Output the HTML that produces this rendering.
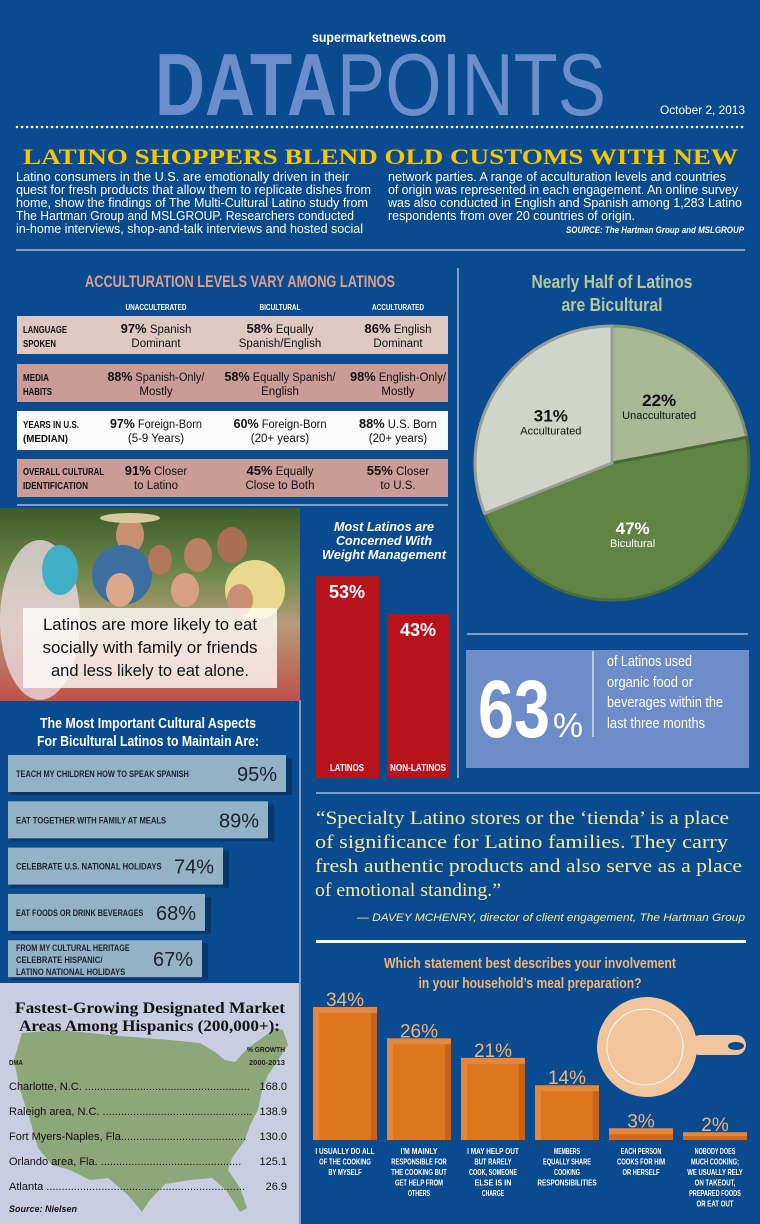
<!DOCTYPE html>
<html><head><meta charset="utf-8">
<style>
html,body{margin:0;padding:0;background:#0a4a8f;}
svg{display:block;}
text{font-family:"Liberation Sans",sans-serif;}
.sf, .sf text, text.sf{font-family:"Liberation Serif",serif;}
</style></head>
<body>
<svg id="page" width="760" height="1224" viewBox="0 0 760 1224" xmlns="http://www.w3.org/2000/svg">
<defs>
<linearGradient id="photoBg" x1="0" y1="0" x2="0" y2="1">
<stop offset="0" stop-color="#3d5a2a"/><stop offset="0.35" stop-color="#6f8a4a"/><stop offset="0.6" stop-color="#b79a78"/><stop offset="1" stop-color="#c0504a"/>
</linearGradient>
</defs>
<rect x="0" y="0" width="760" height="1224" fill="#0a4a8f"/>

<!-- Header -->
<text x="379" y="42" font-size="14" font-weight="bold" fill="#fff" text-anchor="middle" textLength="134" lengthAdjust="spacingAndGlyphs">supermarketnews.com</text>
<g>
<text x="155" y="115" font-size="88" font-weight="bold" fill="#6a8dcb" textLength="182" lengthAdjust="spacingAndGlyphs">DATA</text>
<text x="337" y="115" font-size="88" fill="#6a8dcb" textLength="269" lengthAdjust="spacingAndGlyphs">POINTS</text>
</g>
<text x="745" y="114" font-size="12" fill="#fff" text-anchor="end" textLength="85" lengthAdjust="spacingAndGlyphs">October 2, 2013</text>
<line x1="17" y1="127" x2="745" y2="127" stroke="#fff" stroke-width="2.5" stroke-dasharray="0.1 4.9" stroke-linecap="round"/>
<text class="sf" x="23" y="164" font-size="22" font-weight="bold" fill="#f7c600" textLength="715" lengthAdjust="spacingAndGlyphs">LATINO SHOPPERS BLEND OLD CUSTOMS WITH NEW</text>
<g font-size="12.5" fill="#fff">
<text x="16" y="181" textLength="333" lengthAdjust="spacingAndGlyphs">Latino consumers in the U.S. are emotionally driven in their</text>
<text x="16" y="194" textLength="355" lengthAdjust="spacingAndGlyphs">quest for fresh products that allow them to replicate dishes from</text>
<text x="16" y="207" textLength="352" lengthAdjust="spacingAndGlyphs">home, show the findings of The Multi-Cultural Latino study from</text>
<text x="16" y="220" textLength="338" lengthAdjust="spacingAndGlyphs">The Hartman Group and MSLGROUP. Researchers conducted</text>
<text x="16" y="233" textLength="347" lengthAdjust="spacingAndGlyphs">in-home interviews, shop-and-talk interviews and hosted social</text>
<text x="388" y="181" textLength="338" lengthAdjust="spacingAndGlyphs">network parties. A range of acculturation levels and countries</text>
<text x="388" y="194" textLength="350" lengthAdjust="spacingAndGlyphs">of origin was represented in each engagement. An online survey</text>
<text x="388" y="207" textLength="354" lengthAdjust="spacingAndGlyphs">was also conducted in English and Spanish among 1,283 Latino</text>
<text x="388" y="220" textLength="247" lengthAdjust="spacingAndGlyphs">respondents from over 20 countries of origin.</text>
</g>
<text x="744" y="233" font-size="9" font-weight="bold" font-style="italic" fill="#fff" text-anchor="end" textLength="178" lengthAdjust="spacingAndGlyphs">SOURCE: The Hartman Group and MSLGROUP</text>

<line x1="16" y1="250" x2="745" y2="250" stroke="#aab8d8" stroke-width="1.5"/>
<line x1="458" y1="268" x2="458" y2="778" stroke="#aab8d8" stroke-width="1.5"/>
<line x1="300" y1="700" x2="300" y2="1224" stroke="#aab8d8" stroke-width="1.5"/>

<!-- Acculturation table -->
<text x="240" y="287" font-size="17" font-weight="bold" fill="#dba08e" text-anchor="middle" textLength="310" lengthAdjust="spacingAndGlyphs">ACCULTURATION LEVELS VARY AMONG LATINOS</text>
<g font-size="8" font-weight="bold" fill="#fff" text-anchor="middle">
<text x="156" y="310" textLength="61" lengthAdjust="spacingAndGlyphs">UNACCULTERATED</text>
<text x="280" y="310" textLength="41" lengthAdjust="spacingAndGlyphs">BICULTURAL</text>
<text x="398" y="310" textLength="52" lengthAdjust="spacingAndGlyphs">ACCULTURATED</text>
</g>
<g>
<rect x="17" y="316" width="431" height="38" fill="#e0c8c2"/>
<rect x="17" y="364" width="431" height="38" fill="#c99c95"/>
<rect x="17" y="411" width="431" height="39" fill="#fafafa"/>
<rect x="17" y="459" width="431" height="38" fill="#c99c95"/>
<g font-size="10.5" font-weight="bold" fill="#111">
<text x="23" y="333" textLength="44" lengthAdjust="spacingAndGlyphs">LANGUAGE</text>
<text x="23" y="347" textLength="33" lengthAdjust="spacingAndGlyphs">SPOKEN</text>
<text x="23" y="381" textLength="26" lengthAdjust="spacingAndGlyphs">MEDIA</text>
<text x="23" y="395" textLength="29" lengthAdjust="spacingAndGlyphs">HABITS</text>
<text x="23" y="428" textLength="56" lengthAdjust="spacingAndGlyphs">YEARS IN U.S.</text>
<text x="23" y="442" textLength="45" lengthAdjust="spacingAndGlyphs">(MEDIAN)</text>
<text x="23" y="475" textLength="81" lengthAdjust="spacingAndGlyphs">OVERALL CULTURAL</text>
<text x="23" y="489" textLength="65" lengthAdjust="spacingAndGlyphs">IDENTIFICATION</text>
</g>
<g font-size="11.5" fill="#111" text-anchor="middle">
<text x="156" y="333"><tspan font-weight="bold" font-size="13">97%</tspan> Spanish</text>
<text x="156" y="347">Dominant</text>
<text x="280" y="333"><tspan font-weight="bold" font-size="13">58%</tspan> Equally</text>
<text x="280" y="347">Spanish/English</text>
<text x="398" y="333"><tspan font-weight="bold" font-size="13">86%</tspan> English</text>
<text x="398" y="347">Dominant</text>
<text x="156" y="381" textLength="97" lengthAdjust="spacingAndGlyphs"><tspan font-weight="bold" font-size="13">88%</tspan> Spanish-Only/</text>
<text x="156" y="395">Mostly</text>
<text x="280" y="381" textLength="111" lengthAdjust="spacingAndGlyphs"><tspan font-weight="bold" font-size="13">58%</tspan> Equally Spanish/</text>
<text x="280" y="395">English</text>
<text x="398" y="381" textLength="96" lengthAdjust="spacingAndGlyphs"><tspan font-weight="bold" font-size="13">98%</tspan> English-Only/</text>
<text x="398" y="395">Mostly</text>
<text x="156" y="428" textLength="92" lengthAdjust="spacingAndGlyphs"><tspan font-weight="bold" font-size="13">97%</tspan> Foreign-Born</text>
<text x="156" y="442">(5-9 Years)</text>
<text x="280" y="428" textLength="93" lengthAdjust="spacingAndGlyphs"><tspan font-weight="bold" font-size="13">60%</tspan> Foreign-Born</text>
<text x="280" y="442">(20+ years)</text>
<text x="398" y="428" textLength="78" lengthAdjust="spacingAndGlyphs"><tspan font-weight="bold" font-size="13">88%</tspan> U.S. Born</text>
<text x="398" y="442">(20+ years)</text>
<text x="156" y="475"><tspan font-weight="bold" font-size="13">91%</tspan> Closer</text>
<text x="156" y="489">to Latino</text>
<text x="280" y="475"><tspan font-weight="bold" font-size="13">45%</tspan> Equally</text>
<text x="280" y="489">Close to Both</text>
<text x="398" y="475"><tspan font-weight="bold" font-size="13">55%</tspan> Closer</text>
<text x="398" y="489">to U.S.</text>
</g>
</g>
<line x1="17" y1="505" x2="448" y2="505" stroke="#aab8d8" stroke-width="1.5"/>

<!-- Photo -->
<g>
<rect x="0" y="508" width="300" height="193" fill="url(#photoBg)"/>
<ellipse cx="40" cy="620" rx="40" ry="80" fill="#e8d8e0" opacity="0.8"/>
<ellipse cx="60" cy="570" rx="18" ry="25" fill="#3fb0c8"/>
<ellipse cx="130" cy="535" rx="14" ry="18" fill="#c99070"/>
<ellipse cx="130" cy="518" rx="30" ry="5" fill="#d8c8a0"/>
<ellipse cx="122" cy="575" rx="30" ry="30" fill="#3c6ea0"/>
<ellipse cx="160" cy="560" rx="12" ry="15" fill="#b07858"/>
<ellipse cx="198" cy="555" rx="14" ry="17" fill="#b88262"/>
<ellipse cx="232" cy="545" rx="15" ry="18" fill="#a87050"/>
<ellipse cx="255" cy="590" rx="30" ry="30" fill="#e8d890"/>
<ellipse cx="120" cy="590" rx="14" ry="17" fill="#d8a888"/>
<ellipse cx="185" cy="590" rx="14" ry="17" fill="#d8a080"/>
<ellipse cx="240" cy="600" rx="13" ry="16" fill="#c89070"/>
<rect x="23" y="608" width="254" height="80" fill="#fff" opacity="0.78"/>
<g font-size="17" fill="#111" text-anchor="middle">
<text x="150" y="630" textLength="214" lengthAdjust="spacingAndGlyphs">Latinos are more likely to eat</text>
<text x="150" y="653" textLength="215" lengthAdjust="spacingAndGlyphs">socially with family or friends</text>
<text x="150" y="676" textLength="198" lengthAdjust="spacingAndGlyphs">and less likely to eat alone.</text>
</g>
</g>

<!-- Weight management -->
<g font-size="13" font-weight="bold" font-style="italic" fill="#fff" text-anchor="middle">
<text x="384" y="531" textLength="100" lengthAdjust="spacingAndGlyphs">Most Latinos are</text>
<text x="384" y="545" textLength="96" lengthAdjust="spacingAndGlyphs">Concerned With</text>
<text x="384" y="559" textLength="124" lengthAdjust="spacingAndGlyphs">Weight Management</text>
</g>
<g id="weightChart"></g>
<line x1="316" y1="793" x2="760" y2="793" stroke="#aab8d8" stroke-width="1.5"/>

<!-- Cultural aspects -->
<g font-size="15" font-weight="bold" fill="#fff" text-anchor="middle">
<text x="148" y="728" textLength="216" lengthAdjust="spacingAndGlyphs">The Most Important Cultural Aspects</text>
<text x="148" y="746" textLength="222" lengthAdjust="spacingAndGlyphs">For Bicultural Latinos to Maintain Are:</text>
</g>
<g id="culturalChart"></g>

<!-- Pie -->
<g font-size="18" font-weight="bold" fill="#b7c69c" text-anchor="middle">
<text x="612" y="288" textLength="161" lengthAdjust="spacingAndGlyphs">Nearly Half of Latinos</text>
<text x="612" y="311" textLength="101" lengthAdjust="spacingAndGlyphs">are Bicultural</text>
</g>
<g id="pieChart"></g>
<line x1="467" y1="634" x2="748" y2="634" stroke="#aab8d8" stroke-width="1.5"/>

<!-- 63% -->
<g>
<rect x="466" y="650" width="283" height="118" fill="#6e8dc8"/>
<text x="478" y="737" font-size="82" font-weight="bold" fill="#fff" textLength="72" lengthAdjust="spacingAndGlyphs">63</text>
<text x="553" y="737" font-size="34" fill="#fff" textLength="30" lengthAdjust="spacingAndGlyphs">%</text>
<line x1="593" y1="651" x2="593" y2="737" stroke="#fff" stroke-width="1"/>
<g font-size="14.5" fill="#fff">
<text x="607" y="666" textLength="85" lengthAdjust="spacingAndGlyphs">of Latinos used</text>
<text x="607" y="687" textLength="86" lengthAdjust="spacingAndGlyphs">organic food or</text>
<text x="607" y="707" textLength="116" lengthAdjust="spacingAndGlyphs">beverages within the</text>
<text x="607" y="728" textLength="98" lengthAdjust="spacingAndGlyphs">last three months</text>
</g>
</g>

<!-- Quote -->
<g class="sf" font-size="19" fill="#f5eca2">
<text x="316" y="824" textLength="413" lengthAdjust="spacingAndGlyphs">“Specialty Latino stores or the ‘tienda’ is a place</text>
<text x="315" y="848" textLength="413" lengthAdjust="spacingAndGlyphs">of significance for Latino families. They carry</text>
<text x="315" y="872" textLength="427" lengthAdjust="spacingAndGlyphs">fresh authentic products and also serve as a place</text>
<text x="315" y="896" textLength="186" lengthAdjust="spacingAndGlyphs">of emotional standing.”</text>
</g>
<text x="745" y="921" font-size="11" font-style="italic" fill="#f5eca2" text-anchor="end" textLength="388" lengthAdjust="spacingAndGlyphs">— DAVEY MCHENRY, director of client engagement, The Hartman Group</text>
<rect x="316" y="940" width="430" height="3" fill="#fff"/>

<!-- Meal chart -->
<g font-size="15" font-weight="bold" fill="#f2b577" text-anchor="middle">
<text x="530" y="968" textLength="292" lengthAdjust="spacingAndGlyphs">Which statement best describes your involvement</text>
<text x="530" y="988" textLength="223" lengthAdjust="spacingAndGlyphs">in your household’s meal preparation?</text>
</g>
<g>
<rect x="690" y="1035" width="56" height="20" rx="10" fill="#f3c59c"/>
<ellipse cx="736" cy="1046" rx="8" ry="4" fill="#0a4a8f"/>
<circle cx="647" cy="1047" r="50" fill="#f3c59c"/>
<circle cx="645" cy="1047" r="38" fill="none" stroke="#fff" stroke-width="1"/>
</g>
<g id="mealChart"></g>

<!-- Map section -->
<g>
<rect x="0" y="983" width="299" height="241" fill="#c9cde2"/>
<path d="M22,1033 L60,1030 L120,1036 L170,1040 L200,1043 L215,1052 L225,1060 L235,1062 L248,1048 L262,1038 L275,1028 L283,1030 L288,1045 L278,1060 L268,1075 L262,1090 L258,1110 L250,1125 L245,1140 L232,1158 L228,1170 L240,1188 L247,1208 L240,1212 L226,1190 L212,1178 L190,1180 L165,1184 L150,1200 L142,1212 L128,1195 L108,1178 L90,1180 L70,1170 L52,1165 L38,1148 L30,1120 L20,1090 L14,1060 Z" fill="#8da77a"/>
<g class="sf" font-size="16" font-weight="bold" fill="#111">
<text x="15" y="1013" textLength="270" lengthAdjust="spacingAndGlyphs">Fastest-Growing Designated Market</text>
<text x="19" y="1031" textLength="261" lengthAdjust="spacingAndGlyphs">Areas Among Hispanics (200,000+):</text>
</g>
<g font-size="7" font-weight="bold" fill="#222">
<text x="285" y="1052" text-anchor="end" textLength="38" lengthAdjust="spacingAndGlyphs">% GROWTH</text>
<text x="285" y="1065" text-anchor="end" textLength="36" lengthAdjust="spacingAndGlyphs">2000-2013</text>
<text x="9" y="1065" textLength="14" lengthAdjust="spacingAndGlyphs">DMA</text>
</g>
<g font-size="11" fill="#111">
<text x="9" y="1090">Charlotte, N.C. ......................................................</text><text x="287" y="1090" text-anchor="end" fill="#111">168.0</text>
<text x="9" y="1115">Raleigh area, N.C. .................................................</text><text x="287" y="1115" text-anchor="end">138.9</text>
<text x="9" y="1140">Fort Myers-Naples, Fla.........................................</text><text x="287" y="1140" text-anchor="end">130.0</text>
<text x="9" y="1165">Orlando area, Fla.  ..............................................</text><text x="287" y="1165" text-anchor="end">125.1</text>
<text x="9" y="1190">Atlanta .................................................................</text><text x="287" y="1190" text-anchor="end">26.9</text>
</g>
<text x="9" y="1212" font-size="9" font-weight="bold" font-style="italic" fill="#111">Source: Nielsen</text>
</g>
</svg>

<script>
const NS = "http://www.w3.org/2000/svg";
// Weight management data
const weightCats = ["LATINOS", "NON-LATINOS"];
const weightVals = [53, 43];
// Cultural aspects data
const cultLabels = [["TEACH MY CHILDREN HOW TO SPEAK SPANISH"], ["EAT TOGETHER WITH FAMILY AT MEALS"], ["CELEBRATE U.S. NATIONAL HOLIDAYS"], ["EAT FOODS OR DRINK BEVERAGES"], ["FROM MY CULTURAL HERITAGE", "CELEBRATE HISPANIC/", "LATINO NATIONAL HOLIDAYS"]];
const cultVals = [95, 89, 74, 68, 67];
// Pie data
const pieLabels = ["Unacculturated", "Bicultural", "Acculturated"];
const pieVals = [22, 47, 31];
// Meal preparation data
const mealLabels = [["I USUALLY DO ALL", "OF THE COOKING", "BY MYSELF"], ["I'M MAINLY", "RESPONSIBLE FOR", "THE COOKING BUT", "GET HELP FROM", "OTHERS"], ["I MAY HELP OUT", "BUT RARELY", "COOK, SOMEONE", "ELSE IS IN", "CHARGE"], ["MEMBERS", "EQUALLY SHARE", "COOKING", "RESPONSIBILITIES"], ["EACH PERSON", "COOKS FOR HIM", "OR HERSELF"], ["NOBODY DOES", "MUCH COOKING;", "WE USUALLY RELY", "ON TAKEOUT,", "PREPARED FOODS", "OR EAT OUT"]];
const mealVals = [34, 26, 21, 14, 3, 2];

function mk(tag, attrs, parent) {
  const e = document.createElementNS(NS, tag);
  for (const k in attrs) e.setAttribute(k, attrs[k]);
  parent.appendChild(e);
  return e;
}
function txt(parent, x, y, s, attrs) {
  const t = mk("text", Object.assign({x: x, y: y}, attrs), parent);
  t.textContent = s;
  return t;
}

// Weight chart
(function () {
  const g = document.getElementById("weightChart");
  const base = 778, scale = 202 / 53;
  const yOf = v => base - v * scale;
  weightVals.forEach((v, i) => {
    const x = 316 + i * 71;
    const r = mk("rect", {x: x, y: yOf(v), width: 63, height: base - yOf(v), fill: "#b8131c"}, g);
    
    
    const t = txt(g, x + 31, yOf(v) + 22, v + "%", {"font-size": 18, "font-weight": "bold", fill: "#fff", "text-anchor": "middle"});
    
    
    const l = txt(g, x + 31, base - 7, weightCats[i], {"font-size": 10, "font-weight": "bold", fill: "#fff", "text-anchor": "middle", textLength: i ? 56 : 34, lengthAdjust: "spacingAndGlyphs"});
    
    
  });
})();

// Cultural chart
(function () {
  const g = document.getElementById("culturalChart");
  const xOf = v => v * 3;
  cultVals.forEach((v, i) => {
    const y = 755 + i * 46.3;
    mk("rect", {x: 11, y: y + 3, width: xOf(v) - 4, height: 37, fill: "#06386e"}, g);
    const r = mk("rect", {x: 8, y: y, width: xOf(v) - 7, height: 37, fill: "#93b2c5"}, g);
    
    
    const lines = cultLabels[i];
    lines.forEach((s, j) => {
      const yy = lines.length === 1 ? y + 22 : y + 11 + j * 12;
      const t = txt(g, 16, yy, s, {"font-size": 9.5, "font-weight": "bold", fill: "#1a2230", textLength: s.length * 4.55, lengthAdjust: "spacingAndGlyphs"});
      
      
    });
    const vt = txt(g, xOf(v) - 8, y + 26, v + "%", {"font-size": 20, fill: "#1a2230", "text-anchor": "end"});
    
    
  });
})();

// Pie chart
(function () {
  const g = document.getElementById("pieChart");
  const cx = 612, cy = 463, r = 137;
  const fills = ["#a9b996", "#5f8444", "#cfd6c9"];
  const strokes = ["#7f8e70", "#4a6a35", "#999f96"];
  const txtFill = ["#111", "#fff", "#111"];
  const total = pieVals.reduce((a, b) => a + b, 0);
  let a0 = 0;
  pieVals.forEach((v, i) => {
    const a1 = a0 + v / total * 2 * Math.PI;
    const p = (a, rr) => [cx + rr * Math.sin(a), cy - rr * Math.cos(a)];
    const [x0, y0] = p(a0, r), [x1, y1] = p(a1, r);
    const large = (a1 - a0) > Math.PI ? 1 : 0;
    const s = mk("path", {d: `M${cx},${cy} L${x0},${y0} A${r},${r} 0 ${large} 1 ${x1},${y1} Z`, fill: fills[i], stroke: strokes[i], "stroke-width": 3, "stroke-linejoin": "round"}, g);
    
    
    const am = (a0 + a1) / 2;
    const [lx, ly] = p(am, r * 0.54);
    const t1 = txt(g, lx, ly, v + "%", {"font-size": 17, "font-weight": "bold", fill: txtFill[i], "text-anchor": "middle"});
    
    
    const t2 = txt(g, lx, ly + 13, pieLabels[i], {"font-size": 11, fill: txtFill[i], "text-anchor": "middle"});
    
    
    a0 = a1;
  });
})();

// Meal chart
(function () {
  const g = document.getElementById("mealChart");
  const base = 1140, scale = 133 / 34;
  const yOf = v => base - v * scale;
  mealVals.forEach((v, i) => {
    const x = 313 + i * 74, w = 64, top = yOf(v), h = base - top;
    const r = mk("rect", {x: x, y: top, width: w, height: h, fill: "#e5873a"}, g);
    
    
    if (h > 12) {
      mk("rect", {x: x + 6, y: top + 6, width: w - 12, height: h - 6, fill: "#dd761c"}, g);
      mk("rect", {x: x + w - 6, y: top + 6, width: 6, height: h - 6, fill: "#c9621a"}, g);
    } else {
      mk("rect", {x: x, y: top + h / 2, width: w, height: h / 2, fill: "#d16a1c"}, g);
    }
    const vt = txt(g, x + w / 2, top - 1, v + "%", {"font-size": 19, fill: "#f2b577", "text-anchor": "middle"});
    
    
    mealLabels[i].forEach((s, j) => {
      const t = txt(g, x + w / 2, base + 14 + j * 10.5, s, {"font-size": 8.5, "font-weight": "bold", fill: "#fff", "text-anchor": "middle", textLength: s.length * 3.7, lengthAdjust: "spacingAndGlyphs"});
      
      
    });
  });
})();
</script>
</body></html>
